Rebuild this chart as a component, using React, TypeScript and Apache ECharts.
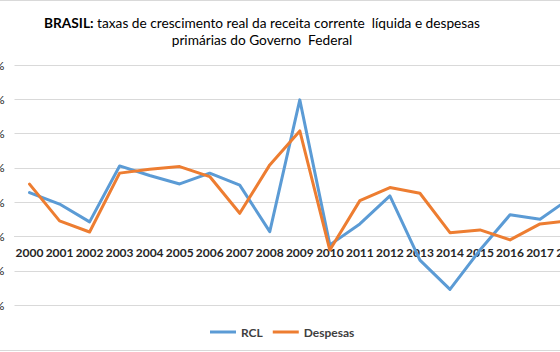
import React, { useEffect, useRef } from "react";
import * as echarts from "echarts";

const years = ["2000","2001","2002","2003","2004","2005","2006","2007","2008","2009","2010","2011","2012","2013","2014","2015","2016","2017","2018"];
const rcl = [2.57, 1.9, 0.86, 4.12, 3.56, 3.07, 3.7, 3.0, 0.29, 7.97, -0.48, 0.74, 2.37, -1.37, -3.07, -0.78, 1.27, 1.01, 2.24];
const despesas = [3.06, 0.92, 0.27, 3.7, 3.93, 4.08, 3.5, 1.36, 4.18, 6.16, -0.78, 2.1, 2.86, 2.53, 0.23, 0.39, -0.19, 0.74, 0.94];
const yMin = -4;
const yMax = 10;
const yStep = 2;

const FONT = "Lato, 'Liberation Sans', sans-serif";

export default function App() {
  const ref = useRef<HTMLDivElement>(null);
  useEffect(() => {
    if (!ref.current) return;
    const chart = echarts.init(ref.current, null, { renderer: "svg" });
    chart.setOption({
      animation: false,
      backgroundColor: "#ffffff",
      textStyle: { fontFamily: FONT },
      title: {
        text: "{b|BRASIL:} taxas de crescimento real da receita corrente  líquida e despesas",
        subtext: "primárias do Governo  Federal",
        left: 257,
        textAlign: "center",
        top: 10,
        itemGap: 3,
        textStyle: {
          fontFamily: FONT,
          fontSize: 13.7,
          fontWeight: "normal",
          color: "#000000",
          rich: { b: { fontFamily: FONT, fontSize: 13.7, fontWeight: "bold", color: "#000000" } },
        },
        subtextStyle: { fontFamily: FONT, fontSize: 13.7, color: "#000000" },
      },
      legend: {
        left: 210,
        top: 326,
        padding: 0,
        icon: "rect",
        itemWidth: 26,
        itemHeight: 3,
        itemGap: 10,
        textStyle: { fontFamily: FONT, fontSize: 12, fontWeight: "bold", color: "#404040" },
        data: ["RCL", "Despesas"],
      },
      grid: { left: 14.5, top: 65, width: 570.6, height: 240.3, containLabel: false, outerBoundsMode: "none" },
      xAxis: {
        type: "category",
        data: years,
        boundaryGap: true,
        position: "bottom",
        offset: -68.7,
        axisLine: { onZero: false, lineStyle: { color: "#d9d9d9", width: 1 } },
        axisTick: { show: false },
        axisLabel: { interval: 0, hideOverlap: false, fontFamily: FONT, fontSize: 12, fontWeight: "bold", color: "#262626", margin: 10 },
      },
      yAxis: {
        type: "value",
        min: yMin,
        max: yMax,
        interval: yStep,
        axisLine: { show: false },
        axisTick: { show: false },
        axisLabel: { formatter: "{value}%", fontFamily: FONT, fontSize: 12, color: "#262626", margin: 10 },
        splitLine: { lineStyle: { color: "#d9d9d9", width: 1 } },
      },
      graphic: [
        { type: "line", shape: { x1: 0, y1: 0.5, x2: 560, y2: 0.5 }, style: { stroke: "#d9d9d9", lineWidth: 1 } },
        { type: "line", shape: { x1: 0, y1: 350.5, x2: 560, y2: 350.5 }, style: { stroke: "#d9d9d9", lineWidth: 1 } },
      ],
      series: [
        {
          name: "RCL",
          type: "line",
          data: rcl,
          symbol: "none",
          itemStyle: { color: "#5B9BD5" },
          lineStyle: { color: "#5B9BD5", width: 3, cap: "round", join: "round" },
        },
        {
          name: "Despesas",
          type: "line",
          data: despesas,
          symbol: "none",
          itemStyle: { color: "#ED7D31" },
          lineStyle: { color: "#ED7D31", width: 3, cap: "round", join: "round" },
        },
      ],
    });
    return () => chart.dispose();
  }, []);
  return (
    <div style={{ position: "fixed", left: 0, top: 0, width: 560, height: 352, overflow: "hidden", background: "#fff" }}>
      <div ref={ref} style={{ width: 560, height: 352 }} />
    </div>
  );
}
